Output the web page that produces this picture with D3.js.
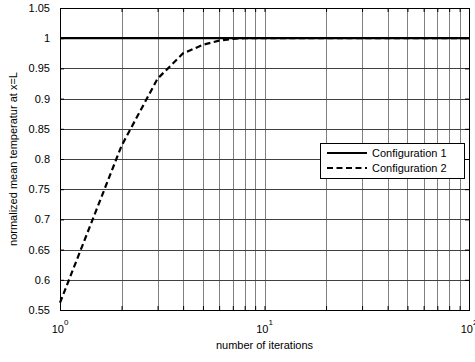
<!DOCTYPE html>
<html>
<head>
<meta charset="utf-8">
<script src="https://cdn.jsdelivr.net/npm/d3@7"></script>
<style>
  body { margin: 0; background: #fff; }
  svg { display: block; font-family: "Liberation Sans", Arial, sans-serif; }
</style>
</head>
<body>
<div id="chart"></div>
<script>
// data
const iterations = [1, 2, 3, 4, 5, 6, 7, 8, 9, 10, 20, 50, 100];
const config1 = [1, 1, 1, 1, 1, 1, 1, 1, 1, 1, 1, 1, 1];
const config2 = [0.562, 0.822, 0.933, 0.975, 0.989, 0.996, 0.999, 1, 1, 1, 1, 1, 1];
const seriesNames = ["Configuration 1", "Configuration 2"];
const yTicks = [0.55, 0.6, 0.65, 0.7, 0.75, 0.8, 0.85, 0.9, 0.95, 1, 1.05];
const xDecades = [1, 10, 100];

const W = 475, H = 362;
const margin = { top: 8, right: 6, bottom: 52, left: 60 };
const w = W - margin.left - margin.right;
const h = H - margin.top - margin.bottom;

const svg = d3.select("#chart").append("svg").attr("width", W).attr("height", H);
const g = svg.append("g").attr("transform", `translate(${margin.left},${margin.top})`);

const x = d3.scaleLog().domain([1, 100]).range([0, w]);
const y = d3.scaleLinear().domain([0.55, 1.05]).range([h, 0]);

// all log ticks incl. minor ones
let xAll = [];
for (let d = 1; d < 100; d *= 10) for (let k = 1; k < 10; k++) xAll.push(d * k);
xAll.push(100);

// grid
g.append("g").selectAll("line").data(xAll.filter(v => v > 1 && v < 100)).join("line")
    .attr("x1", d => Math.round(x(d)) + 0.5).attr("x2", d => Math.round(x(d)) + 0.5)
    .attr("y1", 0).attr("y2", h)
    .attr("stroke", "#808080").attr("stroke-width", 1);
g.append("g").selectAll("line").data(yTicks.slice(1, -1)).join("line")
    .attr("y1", d => Math.round(y(d)) + 0.5).attr("y2", d => Math.round(y(d)) + 0.5)
    .attr("x1", 0).attr("x2", w)
    .attr("stroke", "#404040").attr("stroke-width", 1);

// axes, ticks inward on all four sides
const tickIn = 4;
const axBottom = g.append("g").attr("transform", `translate(0,${h})`)
    .call(d3.axisBottom(x).tickValues(xAll).tickSize(-tickIn).tickFormat(""));
const axTop = g.append("g")
    .call(d3.axisTop(x).tickValues(xAll).tickSize(-tickIn).tickFormat(""));
const axLeft = g.append("g")
    .call(d3.axisLeft(y).tickValues(yTicks).tickSize(-tickIn).tickPadding(6 + tickIn).tickFormat(d => d3.format("")(+d.toFixed(2))));
const axRight = g.append("g").attr("transform", `translate(${w},0)`)
    .call(d3.axisRight(y).tickValues(yTicks).tickSize(-tickIn).tickFormat(""));
[axBottom, axTop, axLeft, axRight].forEach(a => {
    a.select(".domain").remove();
    a.selectAll("line").attr("stroke", "#000");
});
axLeft.selectAll("text").attr("font-size", 11).attr("fill", "#000")
    .attr("font-family", "Liberation Sans, Arial, sans-serif");

// decade labels 10^n
const dec = g.append("g").selectAll("text").data(xDecades).join("text")
    .attr("x", d => x(d)).attr("y", h + 23)
    .attr("text-anchor", "middle").attr("font-size", 11);
dec.append("tspan").text("10");
dec.append("tspan").attr("dy", -8).attr("font-size", 8).text(d => Math.round(Math.log10(d)));

// frame
g.append("rect").attr("x", 0.5).attr("y", 0.5).attr("width", w).attr("height", h)
    .attr("fill", "none").attr("stroke", "#000");

// lines
const line = vals => d3.line().x((d, i) => x(iterations[i])).y(d => y(d))(vals);
g.append("path").attr("d", line(config1)).attr("fill", "none")
    .attr("stroke", "#000").attr("stroke-width", 2.2);
g.append("path").attr("d", line(config2)).attr("fill", "none")
    .attr("stroke", "#000").attr("stroke-width", 2.2).attr("stroke-dasharray", "6,3.5");

// legend
const lg = g.append("g").attr("transform", `translate(${320 - margin.left},${143 - margin.top})`);
lg.append("rect").attr("x", 0.5).attr("y", 0.5).attr("width", 144).attr("height", 35)
    .attr("fill", "#fff").attr("stroke", "#000");
seriesNames.forEach((name, i) => {
    const ly = 10 + i * 15;
    lg.append("line").attr("x1", 7).attr("x2", 47).attr("y1", ly).attr("y2", ly)
        .attr("stroke", "#000").attr("stroke-width", 2)
        .attr("stroke-dasharray", i ? "6,3.5" : null);
    lg.append("text").attr("x", 52).attr("y", ly + 4).attr("font-size", 11).text(name);
});

// axis labels
svg.append("text").attr("x", margin.left + x(10)).attr("y", 349)
    .attr("text-anchor", "middle").attr("font-size", 11).text("number of iterations");
svg.append("text").attr("transform", `translate(17,${margin.top + h / 2}) rotate(-90)`)
    .attr("text-anchor", "middle").attr("font-size", 11).text("normalized mean temperatur at x=L");
</script>
</body>
</html>
